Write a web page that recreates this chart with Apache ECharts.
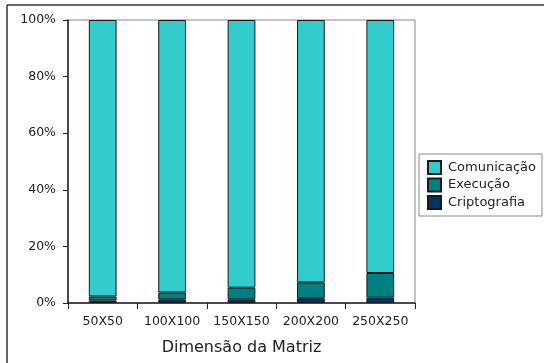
<!DOCTYPE html>
<html><head><meta charset="utf-8">
<script src="https://cdn.jsdelivr.net/npm/echarts@6/dist/echarts.min.js"></script>
<style>html,body{margin:0;padding:0;background:#fff}#c{width:544px;height:363px}</style>
</head><body><div id="c"></div>
<script>
const categories = ['50X50', '100X100', '150X150', '200X200', '250X250'];
const criptografia = [0.9, 1.3, 1.3, 1.7, 1.9];
const execucao = [1.4, 2.4, 4.1, 5.6, 8.7];
const comunicacao = [97.7, 96.3, 94.6, 92.7, 89.4];
const yTicks = [0, 20, 40, 60, 80, 100];

const font = 'DejaVu Sans';
const chart = echarts.init(document.getElementById('c'), null, {renderer: 'canvas'});
const barStyle = (color) => ({color: color, borderColor: '#1a1a1a', borderWidth: 1});
chart.setOption({
  animation: false,
  textStyle: {fontFamily: font},
  graphic: [
    {type: 'line', shape: {x1: 7, y1: 5, x2: 544, y2: 5}, style: {stroke: '#333', lineWidth: 1.5}},
    {type: 'line', shape: {x1: 7, y1: 5, x2: 7, y2: 363}, style: {stroke: '#333', lineWidth: 1.5}}
  ],
  grid: {left: 68, right: 129, top: 20, bottom: 60, outerBoundsMode: 'none', containLabel: false,
         show: true, borderColor: '#888', borderWidth: 1, backgroundColor: 'transparent'},
  legend: {
    orient: 'vertical', left: 419, top: 154,
    itemWidth: 13, itemHeight: 13, itemGap: 2.5,
    borderColor: '#888', borderWidth: 1, padding: [6, 6, 6, 8],
    backgroundColor: '#fff',
    textStyle: {fontFamily: font, fontSize: 13, lineHeight: 13, color: '#222', padding: [0, 0, 0, 2]},
    data: [
      {name: 'Comunicação', icon: 'rect'},
      {name: 'Execução', icon: 'rect'},
      {name: 'Criptografia', icon: 'rect'}
    ]
  },
  xAxis: {
    type: 'category', data: categories,
    axisLine: {lineStyle: {color: '#222', width: 1.5}},
    axisTick: {show: true, alignWithLabel: false, interval: 0, length: 6, lineStyle: {color: '#222'}},
    axisLabel: {fontFamily: font, fontSize: 12.5, color: '#222', margin: 12, interval: 0},
    name: 'Dimensão da Matriz', nameLocation: 'middle', nameGap: 37,
    nameTextStyle: {fontFamily: font, fontSize: 16, color: '#222'}
  },
  yAxis: {
    type: 'value', min: yTicks[0], max: yTicks[yTicks.length - 1], interval: 20,
    axisLine: {show: true, lineStyle: {color: '#222', width: 1.5}},
    axisTick: {show: true, length: 5, lineStyle: {color: '#222'}},
    splitLine: {show: false},
    axisLabel: {fontFamily: font, fontSize: 12.5, color: '#222', margin: 12, formatter: '{value}%'}
  },
  series: [
    {name: 'Criptografia', type: 'bar', stack: 't', barWidth: '40%', data: criptografia, itemStyle: barStyle('#003366')},
    {name: 'Execução', type: 'bar', stack: 't', barWidth: '40%', data: execucao, itemStyle: barStyle('#008080')},
    {name: 'Comunicação', type: 'bar', stack: 't', barWidth: '40%', data: comunicacao, itemStyle: barStyle('#33CCCC')}
  ]
});
</script></body></html>
